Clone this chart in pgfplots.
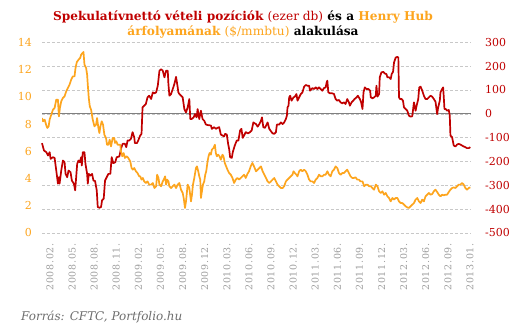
\documentclass[border=0pt]{standalone}
\usepackage{pgfplots}
\pgfplotsset{compat=1.18}
\usepackage{pgfplotstable}
\usepackage{fontspec}
\setmainfont{DejaVu Serif}
\definecolor{myred}{RGB}{192,0,0}
\definecolor{myorange}{RGB}{253,165,30}
\definecolor{tickgray}{RGB}{158,158,158}
\definecolor{footgray}{RGB}{110,110,110}
\definecolor{gridgray}{RGB}{200,200,200}

\pgfplotstableread{
x y
12 -123
18 -154
25 -161
30 -175
35 -161
38 -189
45 -182
50 -185
55 -238
60 -293
63 -266
65 -293
70 -238
75 -196
80 -203
83 -252
88 -266
92 -238
98 -245
102 -280
108 -293
112 -321
115 -266
118 -210
122 -196
126 -203
130 -182
132 -217
135 -161
140 -161
143 -210
148 -252
150 -293
153 -252
158 -259
163 -252
167 -280
172 -282
177 -321
180 -391
185 -394
190 -391
193 -363
198 -356
202 -280
207 -266
212 -252
218 -252
222 -182
227 -207
233 -203
237 -182
245 -179
250 -147
255 -126
262 -126
266 -140
270 -112
275 -112
280 -105
285 -77
290 -98
292 -123
298 -123
302 -112
308 -91
312 -84
315 27
320 34
325 41
330 69
335 76
341 62
346 90
351 86
356 90
361 118
366 181
371 187
376 181
381 153
386 181
391 181
393 125
396 76
401 83
406 104
411 125
416 155
421 111
423 90
426 83
431 76
436 69
441 20
446 6
451 27
456 62
459 -22
463 -22
469 -15
473 -1
478 -15
481 20
486 -22
491 13
496 -22
501 -29
506 -45
511 -47
521 -49
524 -63
531 -56
536 -63
541 -59
546 -56
551 -87
556 -91
561 -95
564 -84
569 -87
573 -126
576 -147
579 -182
584 -185
587 -161
593 -133
599 -112
604 -112
609 -70
613 -63
617 -101
621 -91
626 -77
633 -82
639 -77
644 -70
649 -36
653 -40
657 -43
662 -54
667 -43
672 -29
675 -15
679 -56
684 -59
689 -45
692 -36
697 -63
702 -73
707 -82
712 -84
717 -77
720 -45
727 -45
732 -36
737 -43
742 -36
747 -22
750 -8
752 27
755 34
757 69
760 76
764 55
770 69
774 72
779 83
782 55
787 69
792 83
797 90
802 114
807 121
812 118
817 118
820 97
827 108
832 104
837 111
842 104
847 111
852 104
857 97
862 108
867 111
870 132
872 139
875 90
880 86
887 86
892 83
897 62
902 55
907 58
912 48
917 44
922 48
927 41
932 62
937 48
940 34
945 48
950 55
954 62
960 69
964 76
970 62
974 48
978 20
981 90
985 111
990 104
996 104
1001 97
1003 69
1008 65
1013 69
1018 76
1020 118
1023 72
1028 83
1030 153
1035 174
1041 176
1045 169
1050 167
1053 153
1058 153
1063 146
1066 167
1070 176
1073 215
1078 236
1083 239
1086 236
1088 69
1091 62
1096 62
1100 55
1103 27
1108 20
1113 13
1118 -8
1123 -12
1128 -10
1133 48
1138 13
1141 34
1146 62
1149 111
1153 114
1158 97
1163 76
1168 62
1173 62
1178 69
1183 76
1188 72
1193 62
1198 51
1203 -1
1206 27
1211 55
1213 90
1218 104
1221 111
1223 69
1225 20
1229 20
1233 13
1238 16
1241 -8
1243 -91
1248 -98
1253 -133
1258 -137
1263 -129
1268 -126
1273 -129
1278 -133
1283 -137
1288 -140
1293 -144
1298 -144
1303 -140
}\netto

\pgfplotstableread{
x y
12 8.44
15 8.20
20 8.32
25 7.90
28 7.71
32 7.83
35 8.32
40 8.69
45 9.05
50 9.18
55 9.79
60 9.79
63 8.56
66 9.18
70 9.67
75 9.91
80 10.03
85 10.40
90 10.64
95 10.89
100 11.26
105 11.50
110 11.50
113 12.11
117 12.55
122 12.72
127 12.85
130 13.09
134 13.21
137 13.29
140 12.36
145 12.11
148 11.62
150 10.89
153 9.91
156 9.30
160 9.05
165 8.32
170 7.83
175 7.95
178 8.44
182 7.71
185 7.34
188 7.83
192 8.20
196 7.95
200 7.22
205 6.97
208 6.48
212 6.48
216 6.85
220 6.36
225 6.97
230 6.97
232 6.61
236 6.73
240 6.48
244 6.48
248 6.48
250 6.00
254 5.63
258 5.87
262 5.51
267 5.63
272 5.51
278 5.26
282 4.77
286 4.65
290 4.77
295 4.53
300 4.40
305 4.16
308 4.16
312 3.92
316 4.04
320 3.79
325 3.67
330 3.79
335 3.55
341 3.55
346 3.67
351 3.30
356 3.43
359 4.28
363 4.04
366 3.55
371 3.43
376 3.79
379 3.92
383 4.16
386 3.55
389 3.92
393 3.79
396 3.43
401 3.30
406 3.43
411 3.55
416 3.30
421 3.55
426 3.67
431 3.18
436 2.94
439 2.57
443 1.84
446 2.32
449 3.06
451 3.55
456 3.30
461 2.32
464 2.81
467 3.55
471 4.04
476 4.77
479 4.89
483 4.53
486 4.16
489 3.92
491 2.57
494 3.06
497 3.55
501 3.79
504 4.28
507 4.53
511 5.26
514 5.63
517 5.87
521 5.75
524 6.12
529 6.24
533 6.48
536 5.87
539 5.63
543 5.75
547 5.63
551 5.38
556 5.75
559 5.63
563 5.14
567 4.89
571 4.65
576 4.40
581 4.28
586 4.04
591 3.67
596 3.92
601 4.04
606 3.92
611 4.04
616 4.16
621 4.28
626 4.04
631 4.33
636 4.53
641 4.89
646 5.14
651 4.89
657 4.53
662 4.65
667 4.77
672 4.89
677 4.53
682 4.28
687 4.04
692 3.79
697 3.67
702 3.79
707 3.92
712 4.04
717 3.79
722 3.55
727 3.43
732 3.30
737 3.30
742 3.43
747 3.79
752 3.92
757 4.04
762 4.16
767 4.28
770 4.53
774 4.40
779 4.28
782 4.16
787 4.53
792 4.65
797 4.53
802 4.65
807 4.53
812 4.28
817 3.92
822 3.79
827 3.79
832 3.67
837 3.92
842 4.04
847 4.28
852 4.16
857 4.16
862 4.28
867 4.28
872 4.53
877 4.28
882 4.16
887 4.53
892 4.65
897 4.89
902 4.77
907 4.40
912 4.28
917 4.40
922 4.40
927 4.53
932 4.65
937 4.40
942 4.16
947 4.04
952 4.04
957 4.09
962 3.92
967 3.92
972 3.79
978 3.79
983 3.43
988 3.55
993 3.55
998 3.43
1003 3.43
1008 3.30
1013 3.18
1018 3.55
1023 3.43
1028 3.06
1033 2.94
1038 3.06
1043 2.81
1048 2.94
1053 2.69
1058 2.57
1063 2.32
1068 2.57
1073 2.45
1078 2.57
1083 2.57
1088 2.32
1093 2.20
1098 2.20
1103 2.08
1108 1.96
1113 1.88
1118 1.84
1123 1.96
1128 2.08
1133 2.20
1138 2.45
1143 2.57
1148 2.32
1153 2.20
1158 2.45
1163 2.32
1168 2.69
1173 2.81
1178 2.94
1183 2.81
1188 2.86
1193 3.06
1198 3.18
1203 3.01
1208 2.81
1213 2.69
1218 2.81
1223 2.77
1228 2.81
1233 2.81
1238 3.01
1243 3.18
1248 3.30
1253 3.35
1258 3.30
1263 3.43
1268 3.55
1273 3.55
1278 3.67
1283 3.55
1288 3.30
1293 3.18
1298 3.30
1303 3.35
}\henry

\begin{document}
\begin{tikzpicture}
\useasboundingbox (0bp,0bp) rectangle (526bp,331bp);
\fill[white] (0bp,0bp) rectangle (526bp,331bp);

\node[anchor=base, inner sep=0pt, font=\bfseries\fontsize{12.2}{14}\selectfont] at (243bp,310.5bp)
  {\textcolor{myred}{Spekulatívnettó vételi pozíciók \mdseries(ezer db)} és a \textcolor{myorange}{Henry Hub}};
\node[anchor=base, inner sep=0pt, font=\bfseries\fontsize{12.2}{14}\selectfont] at (243bp,295.5bp)
  {\textcolor{myorange}{árfolyamának \mdseries(\$/mmbtu)} alakulása};

\node[anchor=base west, inner sep=0pt, text=footgray, font=\itshape\fontsize{12}{14}\selectfont] at (21bp,10.3bp)
  {Forrás: CFTC, Portfolio.hu};

\begin{axis}[
  at={(42bp,98bp)}, anchor=south west, scale only axis,
  width=429bp, height=190.7bp,
  xmin=12, xmax=1305, ymin=-500, ymax=300,
  axis x line*=bottom, axis y line*=right,
  axis line style={draw=none},
  major tick length=0pt,
  ytick={-500,-400,...,300},
  ymajorgrids,
  grid style={densely dashed, color=gridgray, line width=0.6bp},
  xtick={36,102.6,169.3,235.9,302.5,369.2,435.8,502.4,569.0,635.7,702.3,768.9,835.6,902.2,968.8,1035.5,1102.1,1168.7,1235.3,1302.0},
  xticklabels={2008.02.,2008.05.,2008.08.,2008.11.,2009.02.,2009.05.,2009.08.,2009.12.,2010.03.,2010.06.,2010.09.,2010.12.,2011.03.,2011.06.,2011.09.,2011.12.,2012.03.,2012.06.,2012.09.,2013.01.},
  xticklabel style={rotate=90, anchor=east, inner sep=0pt, text=tickgray, font=\fontsize{9.5}{11}\selectfont\addfontfeature{LetterSpace=8}},
  xticklabel shift=10bp,
  yticklabel style={anchor=west, inner sep=0pt, text=myred, font=\fontsize{11}{12}\selectfont},
  yticklabel shift=14bp,
  /pgf/number format/assume math mode=true,
  clip=false,
]
\addplot[gray, line width=0.9bp, forget plot] coordinates {(12,0) (1305,0)};
\addplot[myred, line width=1.7bp, line join=round] table[x=x,y=y] {\netto};
\end{axis}

\begin{axis}[
  at={(42bp,98bp)}, anchor=south west, scale only axis,
  width=429bp, height=190.7bp,
  xmin=12, xmax=1305, ymin=0, ymax=14,
  axis x line=none, axis y line*=left,
  axis line style={draw=none},
  major tick length=0pt,
  ytick={0,2,...,14},
  yticklabel style={anchor=east, inner sep=0pt, text=myorange, font=\fontsize{11}{12}\selectfont},
  yticklabel shift=10bp,
  /pgf/number format/assume math mode=true,
]
\addplot[myorange, line width=1.7bp, line join=round] table[x=x,y=y] {\henry};
\end{axis}
\end{tikzpicture}
\end{document}
